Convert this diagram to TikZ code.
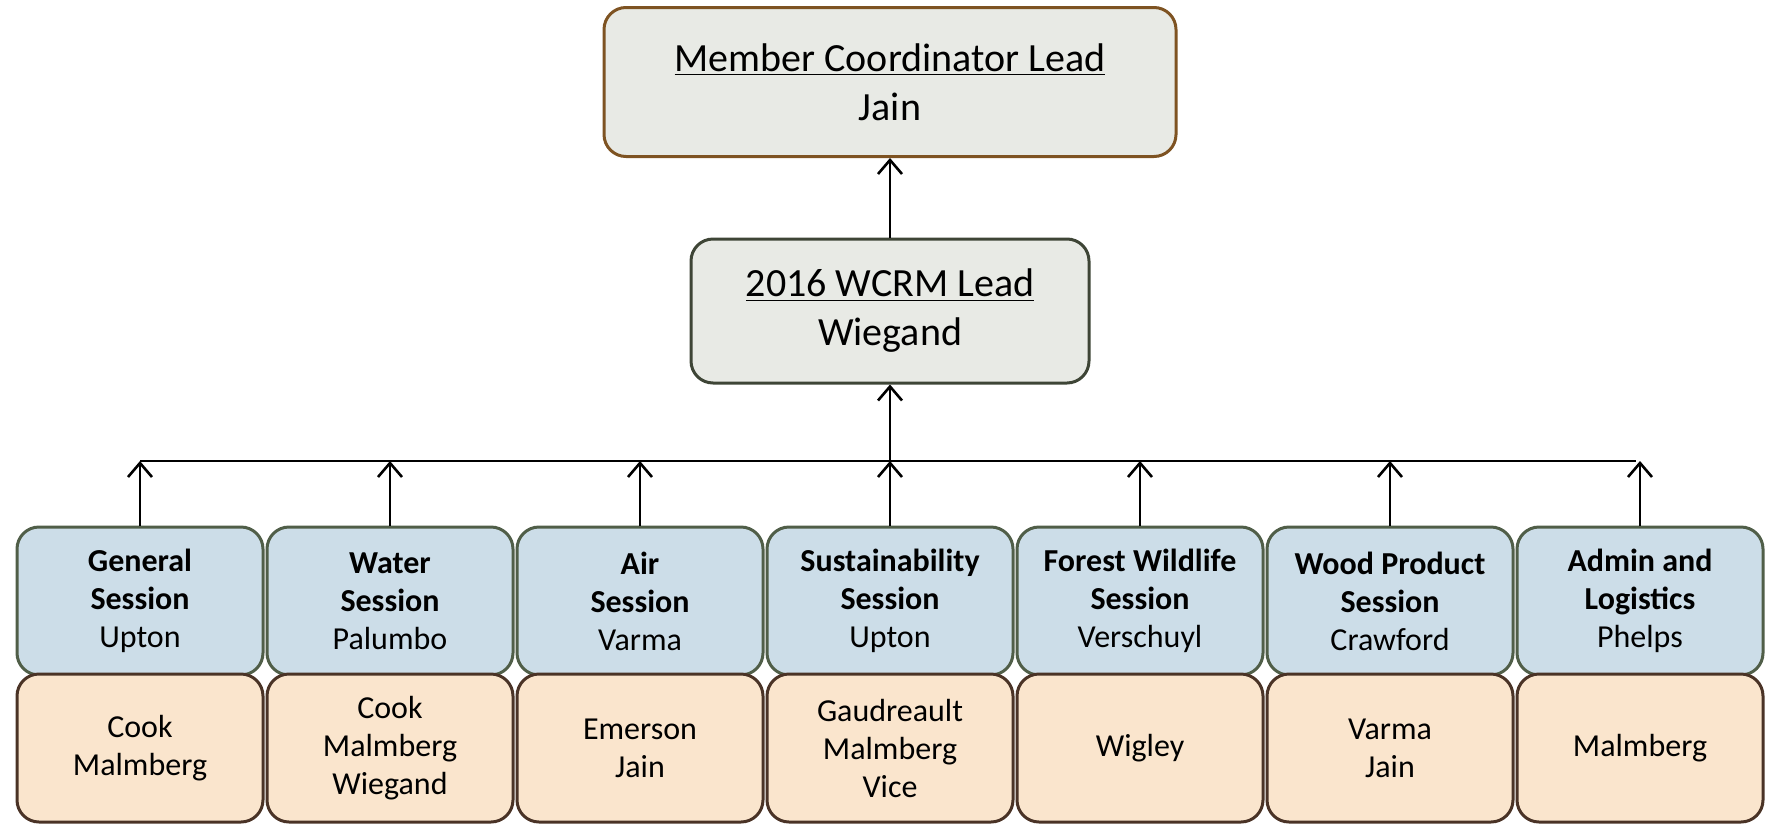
\documentclass[tikz,border=0pt]{standalone}
\usepackage{fontspec}
\setmainfont{Carlito}
\usetikzlibrary{positioning}
\usetikzlibrary{arrows.meta}

\definecolor{leadfill}{HTML}{E8EAE5}
\definecolor{leadedge}{HTML}{7E5322}
\definecolor{wcrmedge}{HTML}{3E4536}
\definecolor{sessfill}{HTML}{CCDDE8}
\definecolor{sessedge}{HTML}{505E48}
\definecolor{teamfill}{HTML}{FAE5CD}
\definecolor{teamedge}{HTML}{4A3326}

\tikzset{
	box/.style = {draw, line width = 1.5pt, rounded corners = 11pt, align = center, inner sep = 0pt},
	lead/.style = {box, fill = leadfill, font = \fontsize{20}{24.5}\selectfont},
	sess/.style = {box, fill = sessfill, draw = sessedge, minimum width = 123pt, minimum height = 74pt, font = \fontsize{16}{19}\selectfont},
	team/.style = {box, fill = teamfill, draw = teamedge, minimum width = 123pt, minimum height = 74pt, font = \fontsize{16}{19}\selectfont},
	up/.style = {black, line width = 1.3pt, -{Straight Barb[length = 7pt, width = 12pt]}}
}

\begin{document}
\begin{tikzpicture}[x = 0.5pt, y = -0.5pt]
	\useasboundingbox (0, 0) rectangle (1771, 825);
	\node [lead, draw = leadedge, minimum width = 286pt, minimum height = 74.5pt] (coord) at (890, 82) {\underline{Member Coordinator Lead}\\Jain};
	\node [lead, draw = wcrmedge, minimum width = 199pt, minimum height = 72pt] (wcrm) at (890, 311) {\underline{2016 WCRM Lead}\\Wiegand};
	\draw [up] (wcrm.north) -- (coord.south);
	\coordinate (busL) at (140, 461);
	\coordinate (busR) at (1636, 461);
	\draw [black, line width = 1.3pt] (busL) -- (busR);
	\draw [up] (wcrm.south |- busL) -- (wcrm.south);
	\foreach \i/\ta/\tb/\head/\team in {
		1/General/Session/Upton/{Cook\\Malmberg},
		2/Water/Session/Palumbo/{Cook\\Malmberg\\Wiegand},
		3/Air/Session/Varma/{Emerson\\Jain},
		4/Sustainability/Session/Upton/{Gaudreault\\Malmberg\\Vice},
		5/Forest Wildlife/Session/Verschuyl/{Wigley},
		6/Wood Product/Session/Crawford/{Varma\\Jain},
		7/Admin and/Logistics/Phelps/{Malmberg}}
	{
		\pgfmathsetmacro{\cx}{140 + 250 * (\i - 1)}
		\node [sess] (sess\i) at (\cx, 601) {\textbf{\ta}\\\textbf{\tb}\\\head};
		\node [team] (team\i) at (\cx, 748) {\team};
		\draw [up] (sess\i.north) -- (sess\i.north |- busL);
	}
\end{tikzpicture}
\end{document}
